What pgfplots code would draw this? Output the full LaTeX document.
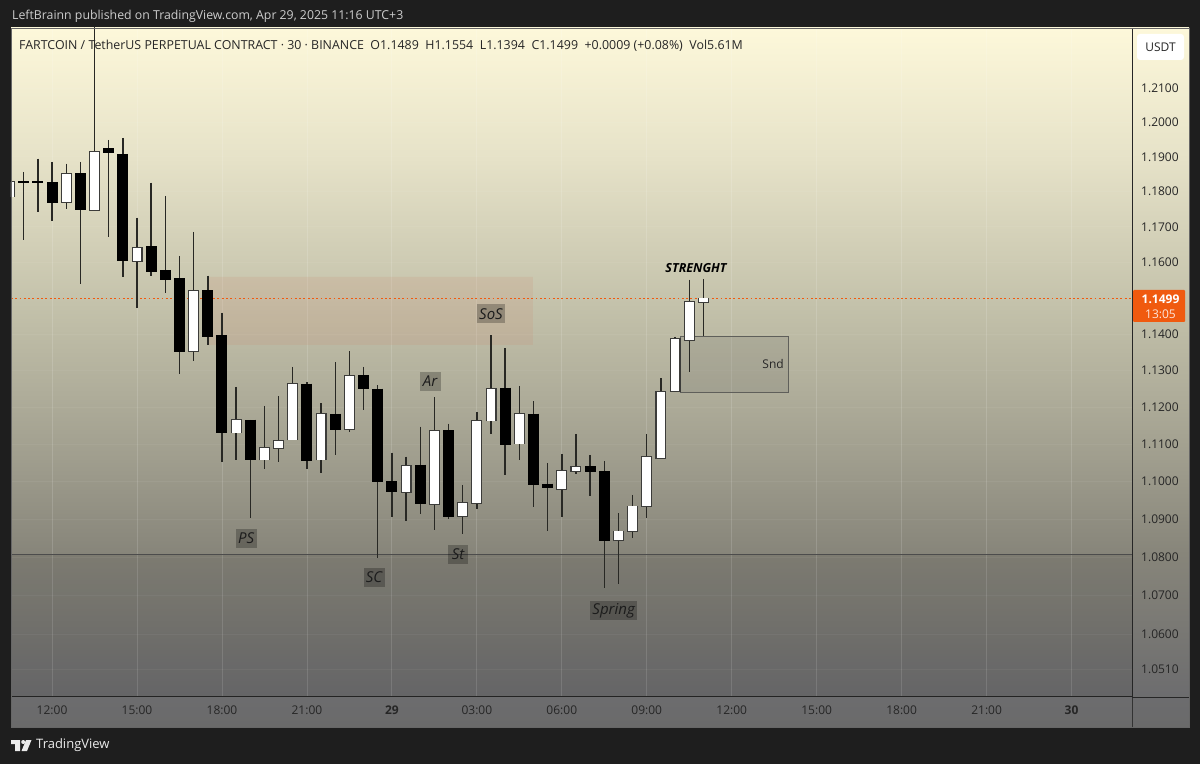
\documentclass[border=0pt]{standalone}
\usepackage{pgfplots}
\pgfplotsset{compat=1.18}
\usepackage{fontspec}
\setmainfont{Open Sans}
\definecolor{pagebg}{RGB}{30,30,30}
\definecolor{wickc}{RGB}{40,40,36}
\definecolor{upedge}{RGB}{60,60,58}
\definecolor{txt}{RGB}{38,38,38}
\definecolor{orng}{RGB}{240,90,15}
\definecolor{g0}{RGB}{106,106,106}
\definecolor{g1}{RGB}{108,108,110}
\definecolor{g2}{RGB}{135,133,122}
\definecolor{g3}{RGB}{160,158,142}
\definecolor{g4}{RGB}{195,193,170}
\definecolor{g5}{RGB}{230,226,200}
\definecolor{g6}{RGB}{253,248,218}
% y=727 -> 25bp, y=28 -> 75bp
\pgfdeclareverticalshading{chartgrad}{100bp}{
 color(0bp)=(g0); color(25bp)=(g0); color(27bp)=(g1);
 color(37.4bp)=(g2); color(44.3bp)=(g3); color(55bp)=(g4);
 color(65.7bp)=(g5); color(75bp)=(g6); color(100bp)=(g6)}
\newcommand\up[5]{%
 \addplot[wickc,line width=1.4pt] coordinates {(#1,#3)(#1,#4)};
 \addplot[upedge,line width=11pt,shorten >=-0.7pt,shorten <=-0.7pt] coordinates {(#1,#2)(#1,#5)};
 \addplot[white,line width=8.8pt] coordinates {(#1,#2)(#1,#5)};
}
\newcommand\down[5]{%
 \addplot[wickc,line width=1.4pt] coordinates {(#1,#3)(#1,#4)};
 \addplot[black,line width=11pt,shorten >=-0.4pt,shorten <=-0.4pt] coordinates {(#1,#2)(#1,#5)};
}
\newcommand\lbl[3]{\node[fill=black,fill opacity=.25,text opacity=1,text={rgb,255:red,28;green,28;blue,28},inner sep=0pt,
   minimum height=19pt,minimum width=#3pt,font=\fontsize{15}{15}\selectfont\itshape] at #1 {#2};}
\begin{document}
\begin{tikzpicture}
\useasboundingbox (0pt,0pt) rectangle (1200pt,764pt);
\fill[pagebg] (0pt,0pt) rectangle (1200pt,764pt);
\shade[shading=chartgrad] (11pt,37pt) rectangle (1189pt,736pt);
\begin{axis}[
 at={(11pt,67pt)},anchor=south west,width=1121pt,height=669pt,scale only axis,
 ymode=log,
 xmin=10.55,xmax=50.135,ymin=1.0440,ymax=1.2278,
 axis x line*=bottom,axis y line*=right,
 axis line style={draw=black!85,line width=1pt},
 major tick length=0pt,
 xtick={12,15,18,21,24,27,30,33,36,39,42,45,48},
 xticklabels={12:00,15:00,18:00,21:00,\textbf{29},03:00,06:00,09:00,12:00,15:00,18:00,21:00,\textbf{30}},
 ytick={1.051,1.06,1.07,1.08,1.09,1.10,1.11,1.12,1.13,1.14,1.16,1.17,1.18,1.19,1.20,1.21},
 yticklabels={1.0510,1.0600,1.0700,1.0800,1.0900,1.1000,1.1100,1.1200,1.1300,1.1400,1.1600,1.1700,1.1800,1.1900,1.2000,1.2100},
 log ticks with fixed point,
 grid=major,
 x grid style={white,opacity=.14,line width=.8pt},
 y grid style={white,opacity=.05,line width=.8pt},
 tick label style={font=\fontsize{12}{14}\selectfont,text=txt},
 yticklabel style={anchor=west,inner sep=0pt,xshift=9pt},
 xticklabel style={anchor=center,yshift=-13pt},
]
% supply and resistance zones
\addplot[draw=none,fill={rgb,255:red,205;green,135;blue,110},fill opacity=.16]
 coordinates {(17.51,1.1559)(28.98,1.1559)(28.98,1.1370)(17.51,1.1370)(17.51,1.1559)};
\addplot[draw={rgb,255:red,95;green,95;blue,90},line width=.9pt,fill={rgb,255:red,110;green,110;blue,105},fill opacity=.2]
 coordinates {(34.18,1.1392)(38.02,1.1392)(38.02,1.1241)(34.18,1.1241)(34.18,1.1392)};
% darker band under the support
\addplot[draw=none,fill=black,fill opacity=.07]
 coordinates {(10.55,1.0807)(50.135,1.0807)(50.135,1.0440)(10.55,1.0440)(10.55,1.0807)};
\addplot[black!70,line width=.9pt] coordinates {(10.55,1.0807)(50.135,1.0807)};
\addplot[orng,line width=1.8pt,dash pattern=on 1.8pt off 2.5pt] coordinates {(10.55,1.1499)(50.135,1.1499)};
% candles: time (h), open, high, low, close
\up{10.5}{1.1786}{1.1841}{1.1771}{1.1829}
\down{11.0}{1.1829}{1.1857}{1.1663}{1.1826}
\down{11.5}{1.1829}{1.1895}{1.1743}{1.1826}
\down{12.0}{1.1826}{1.1886}{1.1717}{1.1768}
\up{12.5}{1.1771}{1.1881}{1.1751}{1.1852}
\down{13.0}{1.1852}{1.1886}{1.1540}{1.1748}
\up{13.5}{1.1748}{1.2300}{1.1746}{1.1914}
\down{14.0}{1.1923}{1.1949}{1.1671}{1.1911}
\down{14.5}{1.1908}{1.1955}{1.1559}{1.1604}
\up{15.0}{1.1604}{1.1726}{1.1472}{1.1641}
\down{15.5}{1.1644}{1.1826}{1.1562}{1.1573}
\down{16.0}{1.1576}{1.1788}{1.1514}{1.1551}
\down{16.5}{1.1554}{1.1618}{1.1290}{1.1351}
\up{17.0}{1.1353}{1.1686}{1.1326}{1.1520}
\down{17.5}{1.1520}{1.1562}{1.1370}{1.1392}
\down{18.0}{1.1397}{1.1459}{1.1052}{1.1131}
\up{18.5}{1.1131}{1.1255}{1.1058}{1.1165}
\down{19.0}{1.1165}{1.1165}{1.0902}{1.1058}
\up{19.5}{1.1058}{1.1203}{1.1034}{1.1090}
\up{20.0}{1.1090}{1.1230}{1.1052}{1.1109}
\up{20.5}{1.1112}{1.1310}{1.1112}{1.1263}
\down{21.0}{1.1263}{1.1268}{1.1034}{1.1055}
\up{21.5}{1.1058}{1.1211}{1.1023}{1.1181}
\down{22.0}{1.1181}{1.1323}{1.1071}{1.1140}
\up{22.5}{1.1140}{1.1353}{1.1133}{1.1285}
\down{23.0}{1.1285}{1.1310}{1.1192}{1.1249}
\down{23.5}{1.1249}{1.1260}{1.0798}{1.0999}
\down{24.0}{1.0999}{1.1077}{1.0905}{1.0972}
\up{24.5}{1.0972}{1.1066}{1.0894}{1.1042}
\down{25.0}{1.1044}{1.1147}{1.0913}{1.0940}
\up{25.5}{1.0940}{1.1227}{1.0871}{1.1136}
\down{26.0}{1.1136}{1.1155}{1.0900}{1.0908}
\up{26.5}{1.0908}{1.0991}{1.0860}{1.0943}
\up{27.0}{1.0943}{1.1186}{1.0926}{1.1163}
\up{27.5}{1.1163}{1.1397}{1.1128}{1.1249}
\down{28.0}{1.1252}{1.1361}{1.1017}{1.1098}
\up{28.5}{1.1101}{1.1258}{1.1058}{1.1181}
\down{29.0}{1.1181}{1.1216}{1.0932}{1.0991}
\down{29.5}{1.0993}{1.1050}{1.0868}{1.0983}
\up{30.0}{1.0980}{1.1074}{1.0905}{1.1028}
\up{30.5}{1.1028}{1.1128}{1.1020}{1.1039}
\down{31.0}{1.1039}{1.1071}{1.0961}{1.1026}
\down{31.5}{1.1026}{1.1055}{1.0719}{1.0844}
\up{32.0}{1.0844}{1.0916}{1.0730}{1.0868}
\up{32.5}{1.0868}{1.0964}{1.0851}{1.0934}
\up{33.0}{1.0934}{1.1128}{1.0902}{1.1066}
\up{33.5}{1.1063}{1.1279}{1.1063}{1.1241}
\up{34.0}{1.1244}{1.1392}{1.1241}{1.1386}
\up{34.5}{1.1383}{1.1551}{1.1296}{1.1489}
\up{35.0}{1.1489}{1.1554}{1.1394}{1.1499}
% labels
\lbl{(axis cs:18.85,1.0850)}{PS}{21}
\lbl{(axis cs:23.37,1.0748)}{SC}{21}
\lbl{(axis cs:26.34,1.0808)}{St}{20}
\lbl{(axis cs:25.35,1.1271)}{Ar}{21}
\lbl{(axis cs:27.5,1.1456)}{SoS}{28}
\lbl{(axis cs:31.83,1.0660)}{Spring}{47}
\node[font=\fontsize{12.5}{14}\selectfont\bfseries\itshape,text=black] at (axis cs:34.74,1.1584) {STRENGHT};
\node[font=\fontsize{12}{14}\selectfont,text=txt] at (axis cs:37.46,1.1318) {Snd};
\end{axis}
\draw[black!60,line width=.8pt] (11pt,37pt) rectangle (1189pt,736pt);
\draw[black!80,line width=1pt] (1132pt,37pt) -- (1132pt,67pt);
\draw[black!85,line width=1pt] (1132pt,67pt) -- (1189pt,67pt);
% header and footer
\node[anchor=west,inner sep=0pt,text={rgb,255:red,205;green,205;blue,205},font=\fontsize{12.3}{14}\selectfont] at (12pt,748pt)
 {LeftBrainn published on TradingView.com, Apr 29, 2025 11:16 UTC+3};
\node[anchor=west,inner sep=0pt,text=txt,font=\fontsize{12.4}{14}\selectfont] at (19pt,718pt)
 {FARTCOIN / TetherUS PERPETUAL CONTRACT · 30 · BINANCE\hspace{6.5pt}O1.1489\hspace{6.5pt}H1.1554\hspace{6.5pt}L1.1394\hspace{6.5pt}C1.1499\hspace{6.5pt}+0.0009 (+0.08\%)\hspace{6.5pt}Vol5.61M};
\fill[white,rounded corners=3pt] (1137pt,704pt) rectangle (1184pt,730pt);
\node[text=txt,font=\fontsize{12}{14}\selectfont] at (1160.5pt,717pt) {USDT};
\fill[orng,rounded corners=1pt] (1133pt,442pt) rectangle (1185pt,474pt);
\node[text=white,font=\fontsize{12}{14}\selectfont\bfseries] at (1160.5pt,465pt) {1.1499};
\node[text=white!85!orng,font=\fontsize{12}{14}\selectfont] at (1160.5pt,450pt) {13:05};
% TradingView mark
\fill[white!92!black] (11pt,24pt) -- (20pt,24pt) -- (20pt,13pt) -- (15pt,13pt) -- (15pt,20pt) -- (11pt,20pt) -- cycle;
\fill[white!92!black] (23.2pt,22pt) circle (2pt);
\fill[white!92!black] (26pt,24pt) -- (31.5pt,24pt) -- (27pt,13pt) -- (21.5pt,13pt) -- cycle;
\node[anchor=west,inner sep=0pt,text=white!92!black,font=\fontsize{13}{14}\selectfont] at (36pt,19pt) {TradingView};
\end{tikzpicture}
\end{document}
